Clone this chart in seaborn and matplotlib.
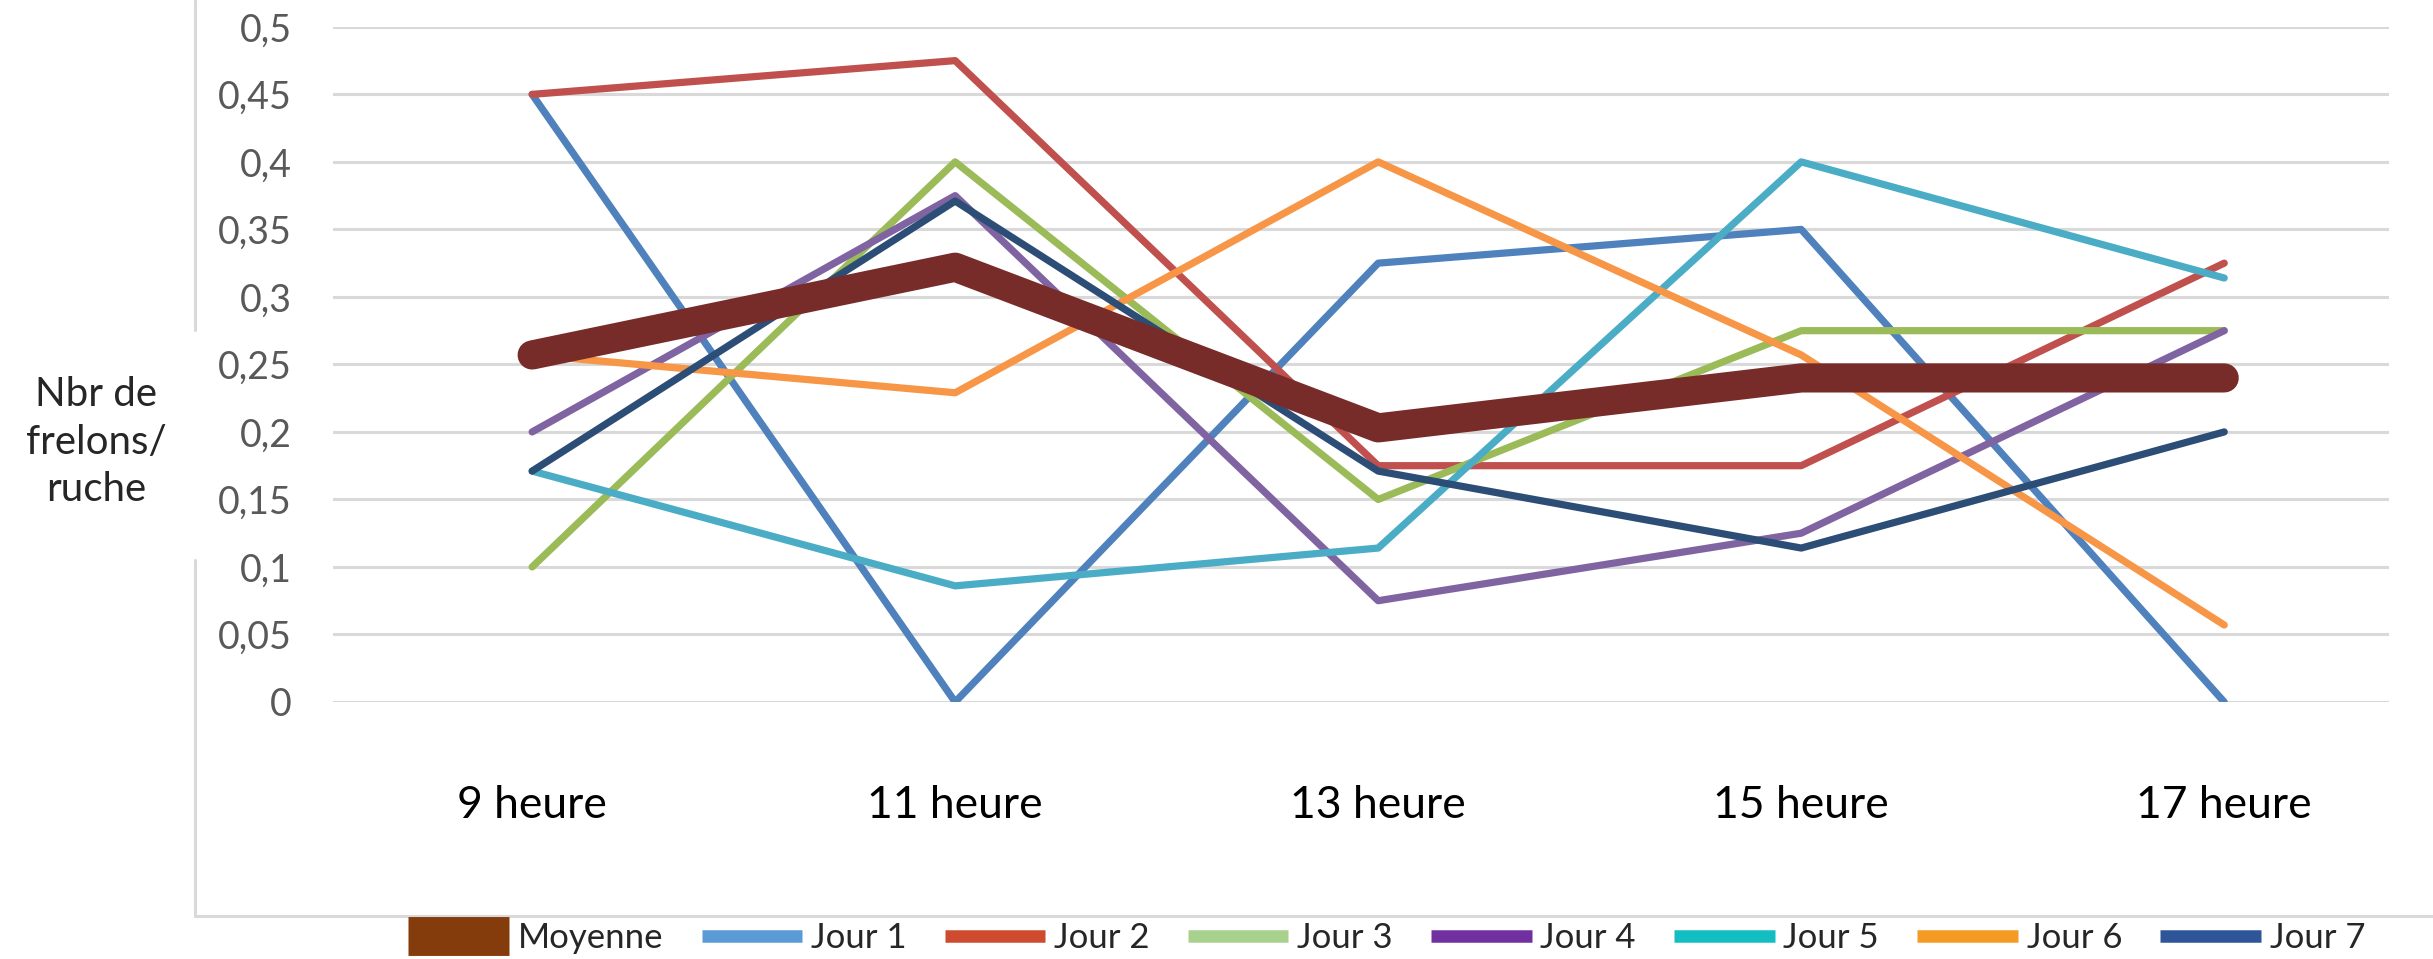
import numpy as np
import pandas as pd
import seaborn as sns
from matplotlib import pyplot as plt
from matplotlib.lines import Line2D

heures = ["9 heure", "11 heure", "13 heure", "15 heure", "17 heure"]
moyenne = [0.257, 0.322, 0.203, 0.240, 0.240]
jour1 = [0.45, 0.0, 0.325, 0.35, 0.0]
jour2 = [0.45, 0.475, 0.175, 0.175, 0.325]
jour3 = [0.10, 0.40, 0.15, 0.275, 0.275]
jour4 = [0.20, 0.375, 0.075, 0.125, 0.275]
jour5 = [0.171, 0.086, 0.114, 0.40, 0.314]
jour6 = [0.257, 0.229, 0.40, 0.257, 0.057]
jour7 = [0.171, 0.371, 0.171, 0.114, 0.20]

jours = {"Jour 1": jour1, "Jour 2": jour2, "Jour 3": jour3, "Jour 4": jour4,
         "Jour 5": jour5, "Jour 6": jour6, "Jour 7": jour7}
line_colors = {"Jour 1": "#4F81BD", "Jour 2": "#C0504D", "Jour 3": "#9BBB59", "Jour 4": "#8064A2",
               "Jour 5": "#4BACC6", "Jour 6": "#F79646", "Jour 7": "#2C4D75"}
legend_colors = {"Moyenne": "#843C0C", "Jour 1": "#5B9BD5", "Jour 2": "#CE4B30", "Jour 3": "#A9D18E",
                 "Jour 4": "#7030A0", "Jour 5": "#13BEC3", "Jour 6": "#F59A23", "Jour 7": "#2E5597"}

rows = []
for name, vals in jours.items():
    for i, v in enumerate(vals):
        rows.append({"serie": name, "x": i, "valeur": v})
jours_df = pd.DataFrame(rows)
moy_df = pd.DataFrame({"x": range(len(heures)), "valeur": moyenne})

sns.set_theme(style="white")
plt.rcParams['font.family'] = ['Lato', 'DejaVu Sans']

fig = plt.figure(figsize=(24.33, 9.59), dpi=100)
ax = fig.add_axes([0.137, 0.268, 0.845, 0.704])

sns.lineplot(data=jours_df, x="x", y="valeur", hue="serie", palette=line_colors,
             linewidth=5.2, sort=False, legend=False, ax=ax)
sns.lineplot(data=moy_df, x="x", y="valeur", color="#772C2A", linewidth=21,
             sort=False, legend=False, ax=ax, solid_capstyle="round")

ax.set_xlim(-0.47, 4.39)
ax.set_ylim(0, 0.5)
yt = np.round(np.arange(0, 0.501, 0.05), 2)
ax.set_yticks(yt)
ax.set_yticklabels([("%g" % t).replace(".", ",") for t in yt])
ax.set_xticks(range(len(heures)))
ax.set_xticklabels(heures)
ax.yaxis.grid(True, color="#D9D9D9", linewidth=2.2)
ax.set_axisbelow(True)
for s in ax.spines.values():
    s.set_visible(False)
ax.tick_params(axis="y", length=0, pad=30, labelsize=27, labelcolor="#595959")
ax.tick_params(axis="x", length=0, pad=60, labelsize=32, labelcolor="black")
ax.set_xlabel("")
ax.set_ylabel("")

fig.text(0.0395, 0.539, "Nbr de\nfrelons/\nruche", ha="center", va="center",
         fontsize=29, linespacing=1.35)

# cadre du graphique
fig.add_artist(Line2D([0.080, 0.080], [1.0, 0.656], color="#D9D9D9", lw=2.2))
fig.add_artist(Line2D([0.080, 0.080], [0.416, 0.045], color="#D9D9D9", lw=2.2))
fig.add_artist(Line2D([0.080, 1.0], [0.045, 0.045], color="#D9D9D9", lw=2.2))

handles = [Line2D([0], [0], color=legend_colors["Moyenne"], lw=28, solid_capstyle="butt")]
handles += [Line2D([0], [0], color=legend_colors[k], lw=9, solid_capstyle="butt") for k in jours]
labels = ["Moyenne"] + list(jours.keys())
fig.legend(handles, labels, loc="center", bbox_to_anchor=(0.57, 0.022), ncol=8,
           frameon=False, handlelength=2.9, columnspacing=1.1, handletextpad=0.25,
           fontsize=25)

plt.savefig("out.png", dpi=100)
